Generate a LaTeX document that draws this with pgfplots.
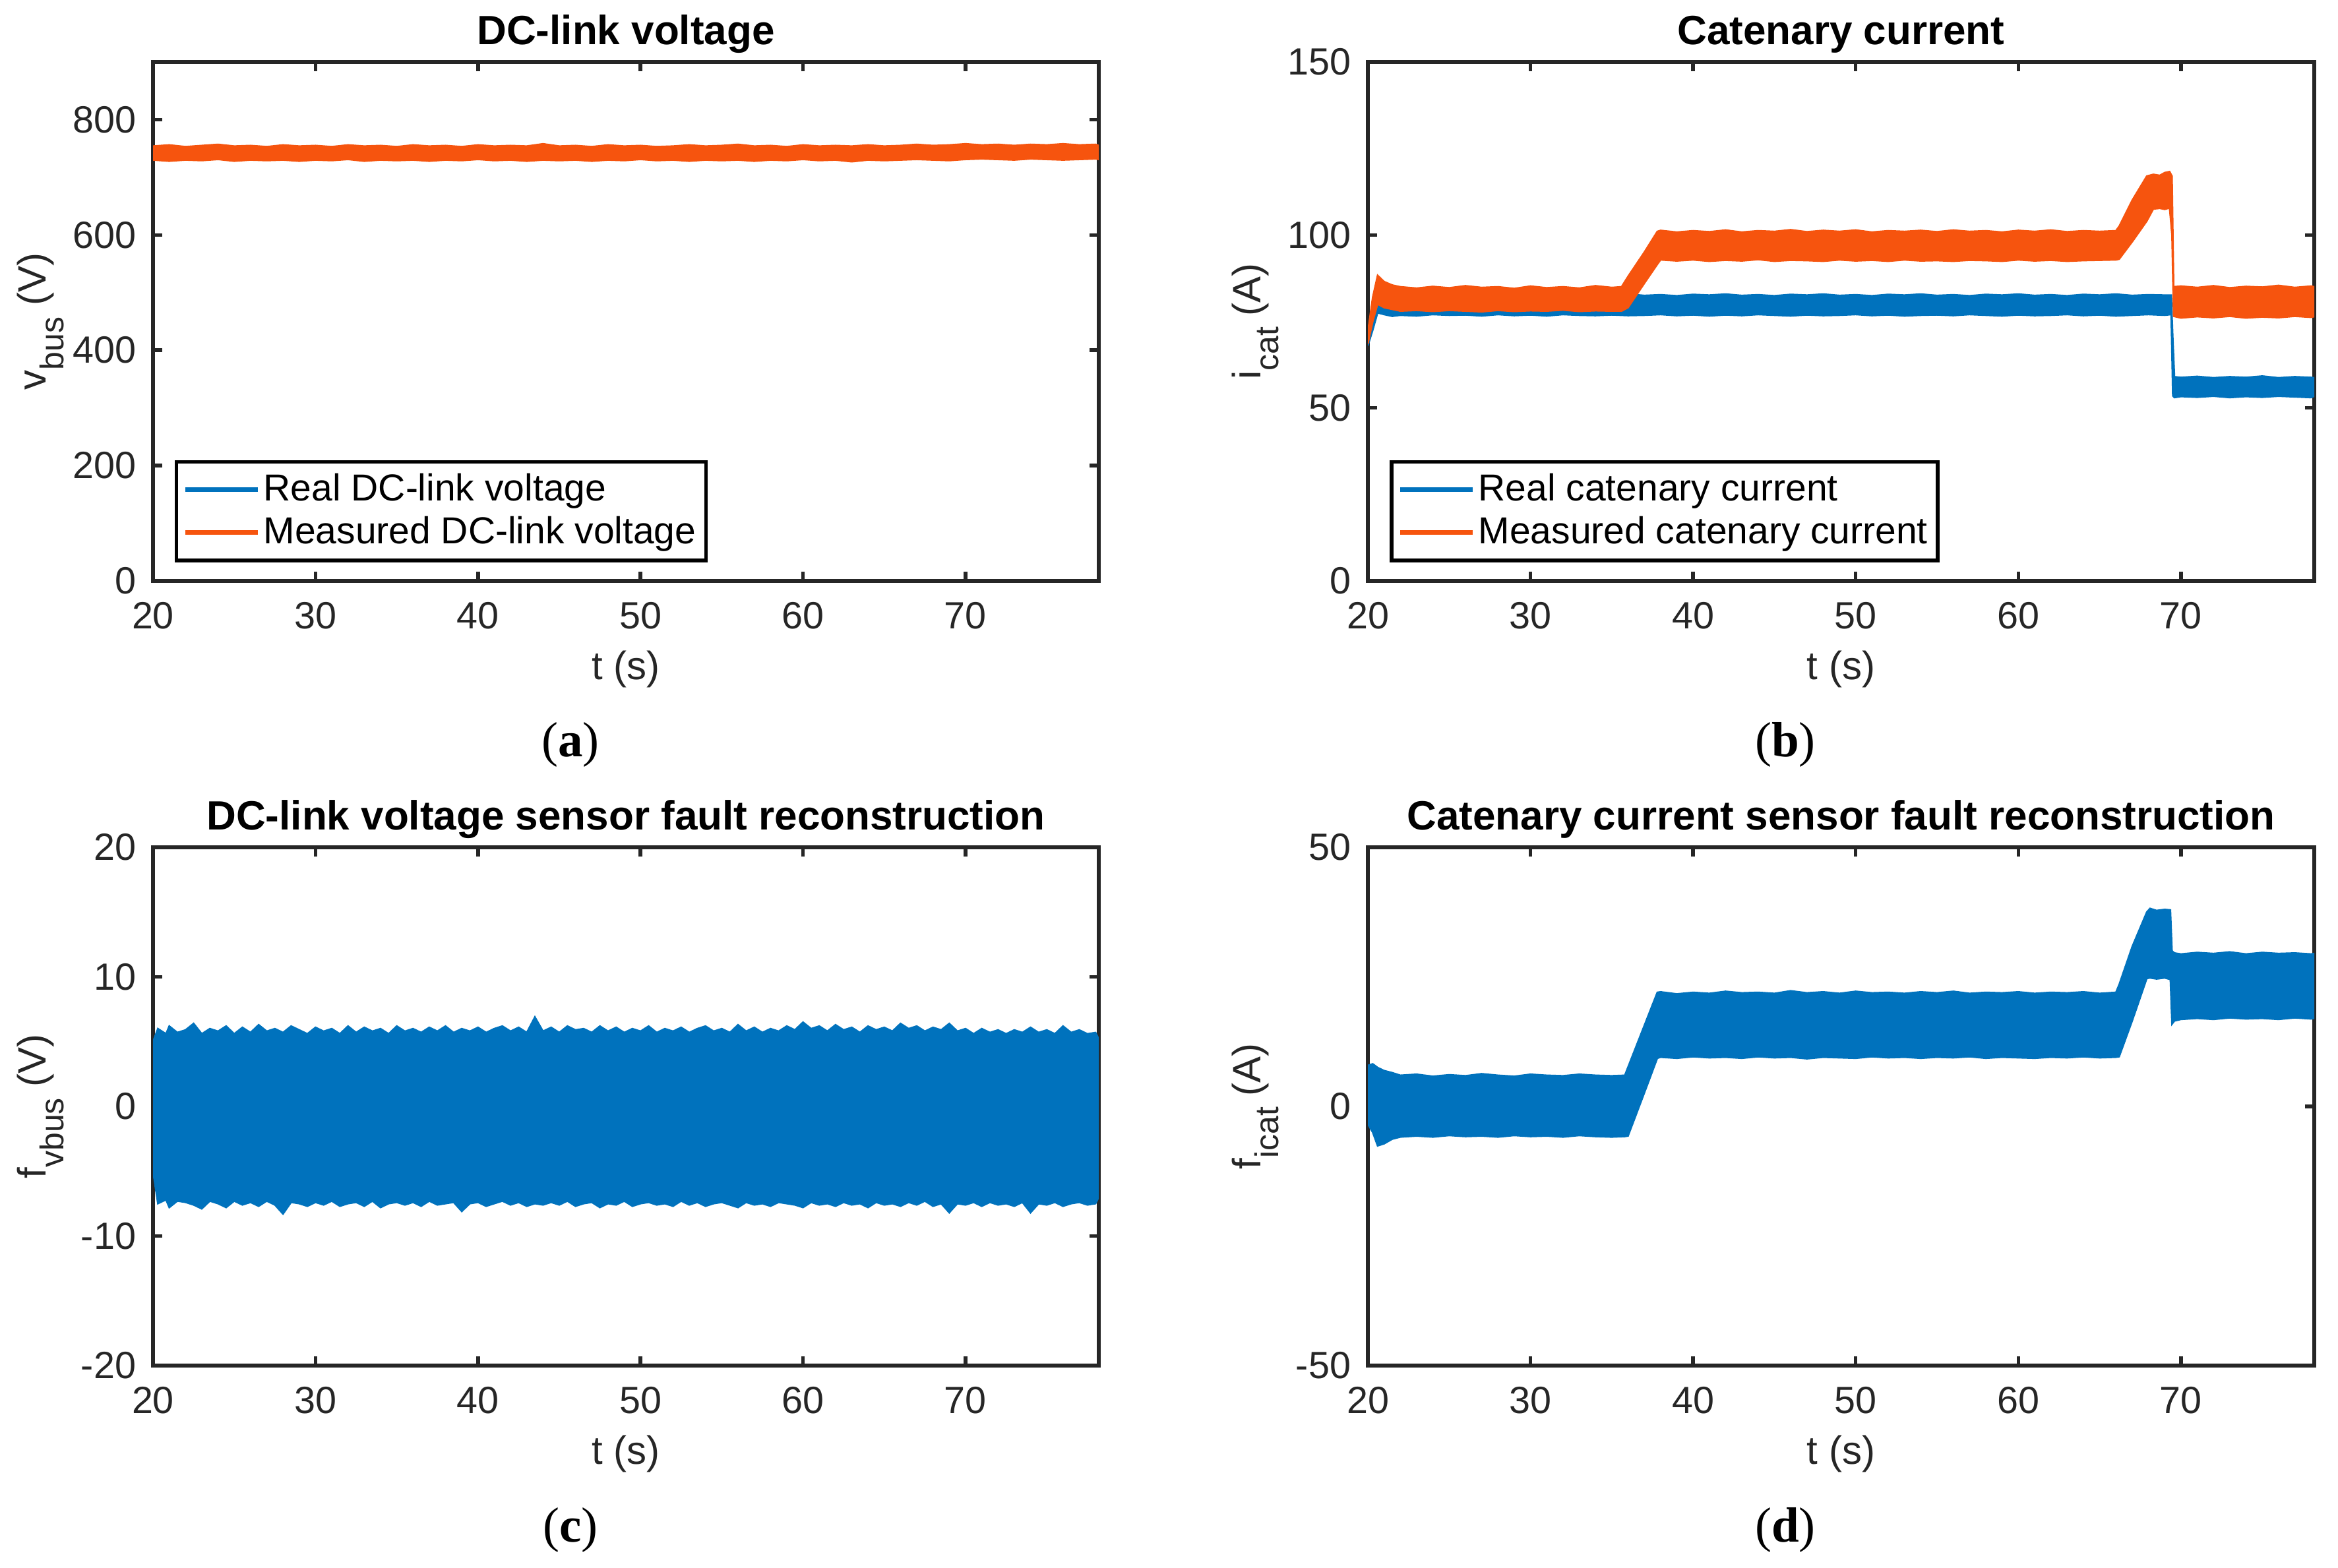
\documentclass[border=0pt]{standalone}
\usepackage{fontspec}
\setmainfont{Liberation Sans}
\newfontfamily\serifface{Liberation Serif}
\usepackage{pgfplots}
\pgfplotsset{compat=1.18}
\usepackage{pgfplotstable}
\usepgfplotslibrary{fillbetween}
\definecolor{mblue}{RGB}{0,114,189}
\definecolor{morange}{RGB}{246,84,14}
\definecolor{axgray}{RGB}{38,38,38}
\newcommand\sub[1]{\raisebox{-0.45em}{\fontsize{10}{10}\selectfont #1}}

% panel (a): measured DC-link voltage band
\pgfplotstableread{
x u l
20 754 730
21 756 728
22 753 730
23 755 729
24 757 731
25 754 728
26 755 730
27 753 729
28 756 730
29 754 728
30 755 730
31 753 729
32 756 731
33 754 728
34 755 730
35 753 729
36 756 730
37 754 728
38 755 730
39 753 729
40 756 731
41 754 729
42 755 730
43 754 728
44 758 730
45 754 729
46 755 730
47 753 728
48 756 730
49 754 729
50 755 731
51 753 729
52 754 730
53 756 728
54 754 730
55 755 729
56 757 730
57 754 728
58 755 730
59 753 729
60 756 731
61 754 729
62 755 730
63 754 727
64 756 730
65 754 729
66 755 730
67 757 731
68 755 730
69 756 729
70 758 731
71 756 732
72 757 731
73 755 730
74 757 732
75 756 731
76 758 730
77 756 731
78 757 732
78.2 755 731
}\tblA

% panel (b): real catenary current band
\pgfplotstableread{
x u l
20 70 68
20.3 76 72.5
20.6 80.5 77.5
21 79.8 77
21.5 79.5 76.5
22 82.5 76.8
23 82.8 76.6
24 82.4 77
25 82.7 76.8
26 82.5 76.9
27 82.9 76.6
28 82.4 77
29 82.6 76.7
30 82.8 76.9
31 82.5 76.6
32 82.7 77
33 82.4 76.8
34 82.8 76.7
35 82.6 76.9
36 82.9 76.7
37 82.5 76.8
38 82.7 77
39 82.4 76.7
40 82.8 76.9
41 82.6 76.6
42 82.9 76.9
43 82.5 76.7
44 82.7 77
45 82.4 76.8
46 82.8 76.6
47 82.6 76.9
48 82.9 76.7
49 82.5 76.8
50 82.7 77
51 82.4 76.7
52 82.8 76.9
53 82.6 76.6
54 82.9 76.8
55 82.5 76.9
56 82.7 76.7
57 82.4 77
58 82.8 76.8
59 82.6 76.6
60 82.9 76.9
61 82.5 76.7
62 82.7 76.8
63 82.4 77
64 82.8 76.7
65 82.6 76.9
66 82.9 76.6
67 82.5 76.8
68 82.7 77
69 82.6 76.8
69.4 82.6 77
69.5 70 53.5
69.6 59 53
70 58.8 53.3
71 59.1 53.1
72 58.7 53.4
73 59.0 53.0
74 58.8 53.3
75 59.2 53.1
76 58.7 53.4
77 59.0 53.2
78 58.8 53.0
78.2 58.7 53.4
}\tblBr

% panel (b): measured catenary current band
\pgfplotstableread{
x u l
20 72 68.5
20.3 82 75
20.6 88.3 80
21 86.5 79
21.5 85.5 78.5
22 85 78
23 84.6 78.2
24 85.1 77.9
25 84.7 78.2
26 85.3 78
27 84.8 77.8
28 85 78.2
29 84.5 77.9
30 85.2 78.1
31 84.7 78
32 85 78.3
33 84.6 77.9
34 85.3 78.1
35 84.8 78
35.6 85 78
36 88 79
37 95 86
37.8 101 91.5
38 101.3 92.8
39 100.8 92.5
40 101.2 92.8
41 100.9 92.4
42 101.4 92.7
43 100.8 92.5
44 101.2 92.9
45 101 92.4
46 101.5 92.7
47 100.9 92.6
48 101.3 92.4
49 101 92.8
50 101.4 92.5
51 100.8 92.7
52 101.2 92.4
53 101 92.8
54 101.3 92.5
55 100.9 92.6
56 101.4 92.4
57 101 92.7
58 101.2 92.6
59 100.8 92.4
60 101.3 92.8
61 101 92.5
62 101.4 92.7
63 100.9 92.4
64 101.2 92.6
65 101 92.7
66 101.2 92.8
66.2 102.5 93
67 110 98
67.9 117 104
68.3 117.5 107.5
68.7 117.2 107.7
69 118 107.4
69.3 118.3 107.8
69.45 117 100
69.55 85 76.5
70 85.2 76
71 84.8 76.4
72 85.3 76.1
73 84.7 76.5
74 85.1 76
75 84.9 76.3
76 85.4 76.1
77 84.8 76.5
78 85.2 76.2
78.2 85 76.4
}\tblBm

% panel (c): DC-link voltage sensor fault reconstruction band
\pgfplotstableread{
x u l
20 5.0 -5.0
20.3 6.0 -7.5
20.8 5.6 -7.2
21 6.2 -7.8
21.5 5.7 -7.3
22 5.9 -7.4
22.5 6.4 -7.6
23 5.6 -7.9
23.5 6.0 -7.3
24 5.8 -7.5
24.5 6.2 -7.8
25 5.6 -7.3
25.5 6.1 -7.6
26 5.7 -7.4
26.5 6.3 -7.7
27 5.8 -7.3
27.5 6.0 -7.6
28 5.7 -8.3
28.5 6.2 -7.4
29 5.9 -7.5
29.5 5.6 -7.7
30 6.1 -7.4
30.5 5.8 -7.6
31 6.0 -7.3
31.5 5.6 -7.7
32 6.2 -7.5
32.5 5.7 -7.4
33 6.1 -7.7
33.5 5.8 -7.3
34 6.0 -7.8
34.5 5.6 -7.5
35 6.2 -7.4
35.5 5.8 -7.6
36 6.0 -7.4
36.5 5.7 -7.7
37 6.1 -7.3
37.5 5.8 -7.6
38 6.2 -7.5
38.5 5.7 -7.4
39 6.0 -8.1
39.5 5.8 -7.5
40 6.1 -7.4
40.5 5.7 -7.7
41 6.0 -7.5
41.5 6.2 -7.3
42 5.8 -7.6
42.5 6.1 -7.4
43 5.7 -7.7
43.5 6.9 -7.5
44 5.8 -7.6
44.5 6.1 -7.4
45 5.7 -7.6
45.5 6.2 -7.3
46 5.9 -7.7
46.5 6.0 -7.5
47 5.7 -7.4
47.5 6.2 -7.8
48 5.8 -7.5
48.5 6.1 -7.6
49 5.7 -7.3
49.5 6.0 -7.7
50 5.8 -7.5
50.5 6.2 -7.4
51 5.7 -7.6
51.5 6.0 -7.5
52 5.8 -7.7
52.5 6.1 -7.3
53 5.7 -7.6
53.5 6.0 -7.4
54 6.2 -7.7
54.5 5.8 -7.5
55 6.0 -7.4
55.5 5.7 -7.6
56 6.3 -7.8
56.5 5.8 -7.4
57 6.1 -7.6
57.5 5.7 -7.5
58 6.0 -7.7
58.5 5.8 -7.4
59 6.2 -7.5
59.5 5.9 -7.6
60 6.5 -7.8
60.5 6.0 -7.4
61 6.2 -7.6
61.5 5.8 -7.5
62 6.3 -7.7
62.5 5.9 -7.4
63 6.1 -7.6
63.5 5.7 -7.5
64 6.2 -7.8
64.5 5.9 -7.4
65 6.1 -7.6
65.5 5.8 -7.5
66 6.4 -7.7
66.5 6.0 -7.4
67 6.2 -7.6
67.5 5.8 -7.3
68 6.1 -7.7
68.5 5.9 -7.5
69 6.4 -8.2
69.5 5.8 -7.5
70 6.0 -7.6
70.5 5.6 -7.4
71 6.0 -7.7
71.5 5.7 -7.4
72 5.9 -7.6
72.5 5.6 -7.5
73 5.9 -7.7
73.5 5.7 -7.4
74 6.1 -8.2
74.5 5.7 -7.5
75 5.9 -7.6
75.5 5.6 -7.4
76 6.2 -7.7
76.5 5.7 -7.5
77 5.9 -7.4
77.5 5.6 -7.6
78 5.7 -7.5
78.2 5.2 -7.0
}\tblC

% panel (d): catenary current sensor fault reconstruction band
\pgfplotstableread{
x u l
20 7.9 -3.4
20.3 8.2 -5
20.6 7.5 -7.6
21 6.9 -7.2
21.5 6.5 -6.3
22 6.0 -5.9
23 6.2 -5.7
24 5.8 -5.9
25 6.1 -5.6
26 5.9 -5.8
27 6.3 -5.7
28 6.0 -5.9
29 5.8 -5.6
30 6.2 -5.8
31 6.0 -5.7
32 5.9 -5.9
33 6.2 -5.6
34 6.0 -5.8
35 5.9 -5.9
35.8 6.0 -5.8
36 7.6 -5.7
37 15.6 2.6
37.8 22.0 9.3
38 22.1 9.5
39 21.7 9.3
40 22.0 9.6
41 21.8 9.4
42 22.2 9.5
43 21.9 9.3
44 22.0 9.6
45 21.8 9.4
46 22.3 9.5
47 21.9 9.2
48 22.1 9.5
49 21.8 9.4
50 22.2 9.3
51 21.9 9.6
52 22.0 9.4
53 21.8 9.5
54 22.1 9.3
55 21.9 9.5
56 22.2 9.4
57 21.8 9.6
58 22.0 9.3
59 21.9 9.5
60 22.1 9.4
61 21.8 9.3
62 22.0 9.5
63 21.9 9.4
64 22.1 9.6
65 21.8 9.4
66 22.0 9.5
66.2 23.5 9.6
67 30.8 16.5
67.9 37.5 24.7
68.1 38.2 24.8
68.5 37.8 24.6
69 38.0 24.8
69.35 37.9 24.5
69.45 30 15.9
69.6 29.6 16.5
70 29.4 16.8
71 29.7 17
72 29.5 16.8
73 29.8 17.1
74 29.4 16.9
75 29.7 17
76 29.5 16.8
77 29.6 17.1
78 29.4 16.9
78.2 29.5 17
}\tblD

\tikzset{fill between/on layer=main}
\pgfplotsset{
  panel/.style={
    scale only axis, width=286.8pt, height=157.4pt,
    xmin=20, xmax=78.2, xtick={20,30,...,70},
    axis line style={line width=1.1pt, draw=axgray},
    tick style={line width=1.1pt, draw=axgray},
    major tick length=2.8pt,
    tick align=inside,
    /pgf/number format/assume math mode=true,
    tick label style={font=\fontsize{11.5}{13}\selectfont, text=axgray, inner sep=0pt},
    xticklabel style={anchor=base, yshift=-14.5pt},
    yticklabel style={anchor=east, xshift=-5pt},
    xlabel={t (s)},
    xlabel style={at={(axis description cs:0.5,0)}, anchor=base, yshift=-30pt,
      font=\fontsize{12}{14}\selectfont, text=axgray, inner sep=0pt},
    ylabel style={at={(axis description cs:-0.1133,0.5)}, anchor=base,
      font=\fontsize{12}{14}\selectfont, text=axgray, inner sep=0pt},
    every axis title shift=0pt,
    title style={at={(axis description cs:0.5,1)}, anchor=base, yshift=5.2pt,
      font=\bfseries\fontsize{12.4}{14}\selectfont, inner sep=0pt},
    legend style={at={(axis description cs:0.023,0.0356)}, anchor=south west,
      draw=black, line width=1.1pt, fill=white, font=\fontsize{11.4}{13}\selectfont,
      inner xsep=2pt, inner ysep=2.6pt, row sep=1.2pt, cells={anchor=west},
      nodes={inner sep=1pt}},
    legend image code/.code={\draw[#1, line width=1.4pt] (0pt,0pt) -- (22pt,0pt);},
  },
  band/.style={line width=0.5pt, forget plot},
}

\begin{document}
\begin{tikzpicture}
\path (0,0) rectangle (709pt,475.6pt);

% (a)
\begin{axis}[panel, at={(46.4pt,456.8pt)}, anchor=north west,
  ymin=0, ymax=900, ytick={0,200,...,800},
  title={DC-link voltage}, ylabel={v\sub{bus} (V)}]
\addlegendimage{mblue}\addlegendentry{Real DC-link voltage}
\addlegendimage{morange}\addlegendentry{Measured DC-link voltage}
\addplot[mblue, band] coordinates {(20,742) (78.2,742)};
\addplot[morange, band, name path=au] table[x=x,y=u]{\tblA};
\addplot[morange, band, name path=al] table[x=x,y=l]{\tblA};
\addplot[morange, forget plot] fill between[of=au and al];
\end{axis}

% (b)
\begin{axis}[panel, at={(414.8pt,456.8pt)}, anchor=north west, width=287pt,
  ymin=0, ymax=150, ytick={0,50,100,150},
  title={Catenary current}, ylabel={i\sub{cat} (A)}]
\addlegendimage{mblue}\addlegendentry{Real catenary current}
\addlegendimage{morange}\addlegendentry{Measured catenary current}
\addplot[mblue, band, name path=bru] table[x=x,y=u]{\tblBr};
\addplot[mblue, band, name path=brl] table[x=x,y=l]{\tblBr};
\addplot[mblue, forget plot] fill between[of=bru and brl];
\addplot[morange, band, name path=bmu] table[x=x,y=u]{\tblBm};
\addplot[morange, band, name path=bml] table[x=x,y=l]{\tblBm};
\addplot[morange, forget plot] fill between[of=bmu and bml];
\end{axis}

% (c)
\begin{axis}[panel, at={(46.4pt,218.6pt)}, anchor=north west, height=157.2pt,
  ymin=-20, ymax=20, ytick={-20,-10,0,10,20},
  title={DC-link voltage sensor fault reconstruction}, ylabel={f\sub{vbus} (V)}]
\addplot[mblue, band, name path=cu] table[x=x,y=u]{\tblC};
\addplot[mblue, band, name path=cl] table[x=x,y=l]{\tblC};
\addplot[mblue, forget plot] fill between[of=cu and cl];
\end{axis}

% (d)
\begin{axis}[panel, at={(414.8pt,218.6pt)}, anchor=north west, width=287pt, height=157.2pt,
  ymin=-50, ymax=50, ytick={-50,0,50},
  title={Catenary current sensor fault reconstruction}, ylabel={f\sub{icat} (A)}]
\addplot[mblue, band, name path=du] table[x=x,y=u]{\tblD};
\addplot[mblue, band, name path=dl] table[x=x,y=l]{\tblD};
\addplot[mblue, forget plot] fill between[of=du and dl];
\end{axis}

\node[anchor=base, font=\serifface\fontsize{15}{17}\selectfont] at (173pt,246pt) {({\bfseries a})};
\node[anchor=base, font=\serifface\fontsize{15}{17}\selectfont] at (541.4pt,246pt) {({\bfseries b})};
\node[anchor=base, font=\serifface\fontsize{15}{17}\selectfont] at (173pt,7.8pt) {({\bfseries c})};
\node[anchor=base, font=\serifface\fontsize{15}{17}\selectfont] at (541.4pt,7.8pt) {({\bfseries d})};
\end{tikzpicture}
\end{document}
